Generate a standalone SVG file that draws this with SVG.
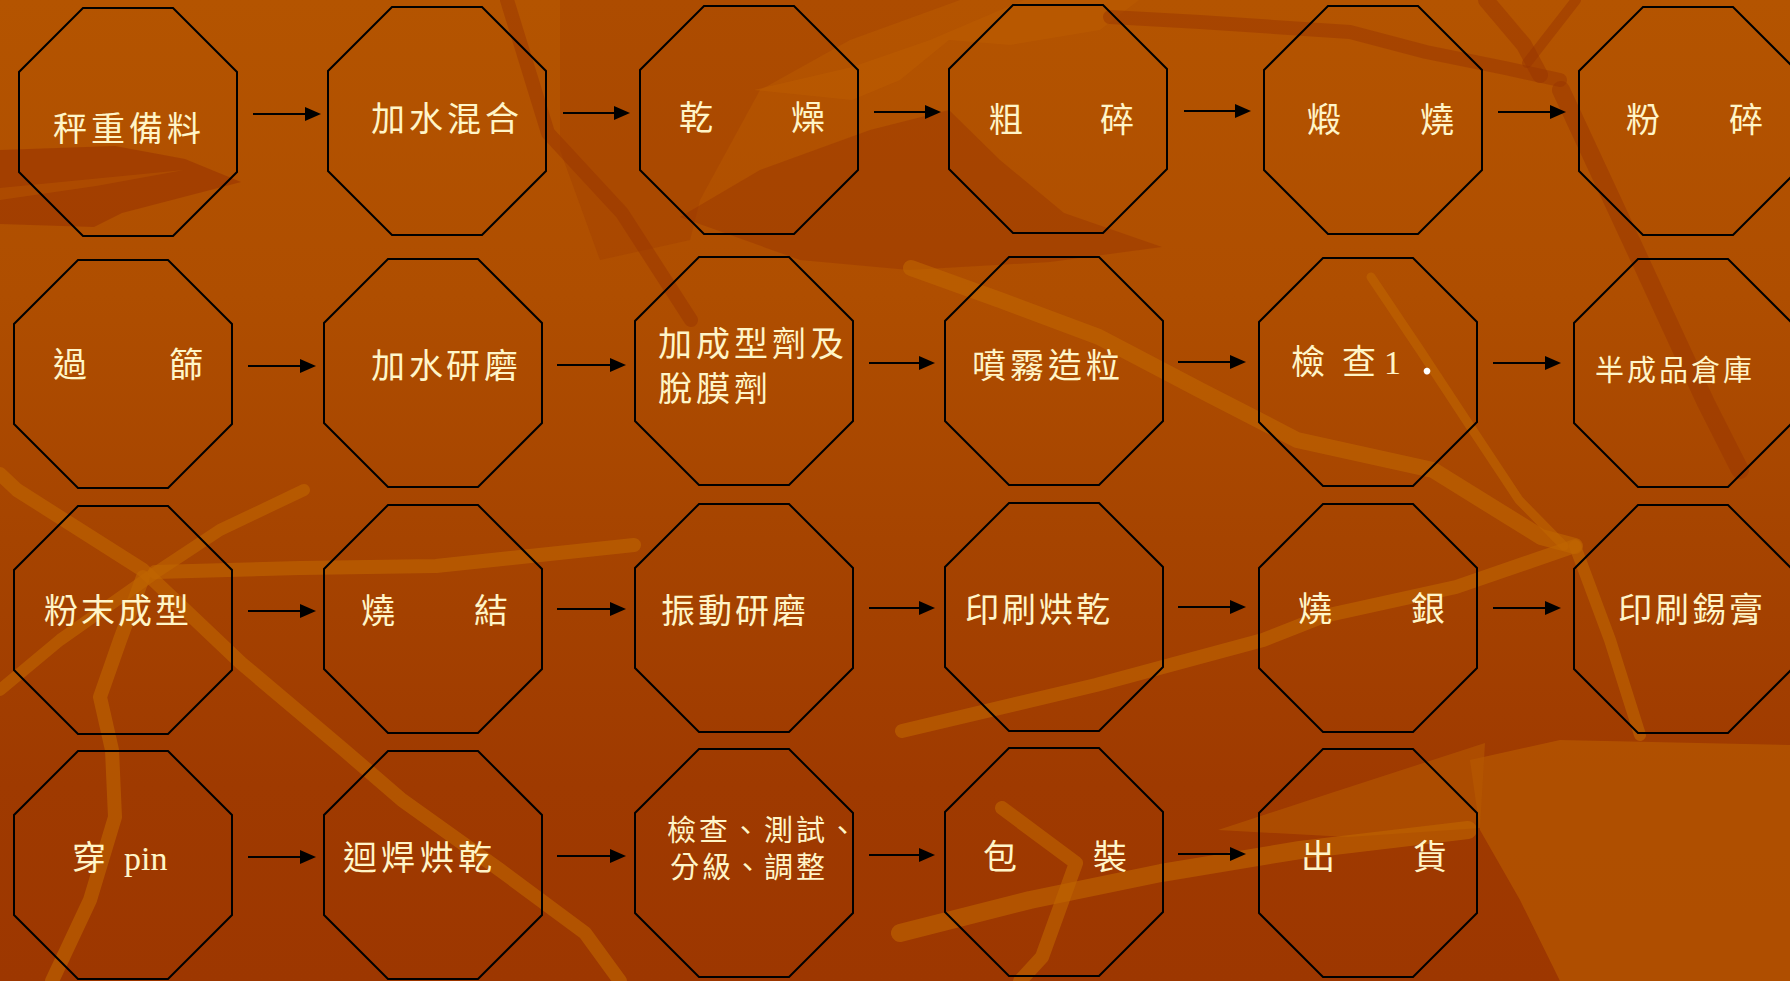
<svg xmlns="http://www.w3.org/2000/svg" width="1790" height="981" viewBox="0 0 1790 981">
<defs>
<style>
.oct{fill:none;stroke:#000;stroke-width:2;stroke-linejoin:miter}
.arr{fill:none;stroke:#000;stroke-width:2;marker-end:url(#ah)}
.lbl{font-family:"Liberation Serif","Noto Sans CJK TC",serif;font-size:34px;fill:#FFF5C8}
.sm{font-size:29px}
.lt{fill:none;stroke:#C06600;stroke-linejoin:round;stroke-linecap:round;opacity:.6}
.dk{fill:none;stroke:#973200;stroke-linejoin:round;stroke-linecap:round;opacity:.45}
</style>
<linearGradient id="bg" x1="0" y1="0" x2="0" y2="1">
<stop offset="0" stop-color="#B45400"/>
<stop offset="0.3" stop-color="#AF4E00"/>
<stop offset="0.55" stop-color="#A64400"/>
<stop offset="0.8" stop-color="#9F3A00"/>
<stop offset="1" stop-color="#9D3700"/>
</linearGradient>
<marker id="ah" markerUnits="userSpaceOnUse" markerWidth="16" markerHeight="14" refX="2" refY="7" orient="auto">
<path d="M0,0 L16,7 L0,14 z" fill="#000"/>
</marker>
</defs>

<g id="background">
<rect x="0" y="0" width="1790" height="981" fill="url(#bg)"/>
<polygon points="0,150 115,146 185,159 241,182 122,213 94,227 0,224" fill="#973200" opacity=".55"/>
<polygon points="0,188 184,170 96,186 0,200" fill="#B05000" opacity=".7"/>
<polygon points="560,0 960,0 850,40 760,90 700,200 690,240 600,260 560,150" fill="#973200" opacity=".25"/>
<polygon points="680,217 760,170 870,130 949,110 1000,160 1064,213 1162,247 1050,262 909,270 800,260" fill="#973200" opacity=".4"/>
<polygon points="754,90 852,67 930,40 1024,0 1139,0 1100,30 1010,45 949,40 900,80 852,100" fill="#BA5C00" opacity=".6"/>
<polygon points="1470,760 1560,740 1790,745 1790,981 1560,981 1520,900 1480,830" fill="#B65800" opacity=".7"/>
<polygon points="1218,830 1331,793 1485,743 1480,828 1348,837" fill="#B65800" opacity=".6"/>
<polyline class="dk" stroke-width="14" points="1110,17 1200,22 1350,32 1426,52 1505,68 1560,80"/>
<polyline class="dk" stroke-width="16" points="1486,0 1524,45 1540,75"/>
<polyline class="dk" stroke-width="10" points="1527,63 1576,0"/>
<polyline class="dk" stroke-width="18" points="1561,90 1640,260 1706,403 1740,470"/>
<polyline class="dk" stroke-width="14" points="507,0 548,133 622,213 691,320"/>
<polyline class="lt" stroke-width="16" points="911,268 1000,300 1099,337 1200,390 1297,440 1433,470 1541,537 1575,546"/>
<polyline class="lt" stroke-width="9" stroke="#C87200" points="1371,277 1420,350 1468,423 1519,500 1564,546"/>
<polyline class="lt" stroke-width="14" points="1575,546 1456,587 1324,616 1263,640 1096,685 902,731"/>
<polyline class="lt" stroke-width="12" points="1575,546 1610,640 1640,735"/>
<polyline class="lt" stroke-width="14" points="155,572 300,568 436,566 634,545"/>
<polyline class="lt" stroke-width="14" points="0,474 17,490 143,570 241,663 344,750 402,800 500,870 585,933 620,981"/>
<polyline class="lt" stroke-width="12" points="304,490 220,530 155,573 60,640 0,690"/>
<polyline class="lt" stroke-width="14" points="143,577 120,640 100,697 112,750 115,817 90,900 52,981"/>
<polyline class="lt" stroke-width="18" points="900,933 1030,900 1161,873 1300,850 1468,830"/>
<polyline class="lt" stroke-width="14" points="1002,808 1076,863 1042,957 1020,981"/>
</g>

<g id="connectors">
<line class="arr" x1="253" y1="114" x2="307" y2="114"/>
<line class="arr" x1="563" y1="113" x2="616" y2="113"/>
<line class="arr" x1="874" y1="112" x2="927" y2="112"/>
<line class="arr" x1="1184" y1="111" x2="1237" y2="111"/>
<line class="arr" x1="1498" y1="112" x2="1552" y2="112"/>
<line class="arr" x1="248" y1="366" x2="302" y2="366"/>
<line class="arr" x1="557" y1="365" x2="612" y2="365"/>
<line class="arr" x1="869" y1="363" x2="921" y2="363"/>
<line class="arr" x1="1178" y1="362" x2="1232" y2="362"/>
<line class="arr" x1="1493" y1="363" x2="1547" y2="363"/>
<line class="arr" x1="248" y1="611" x2="302" y2="611"/>
<line class="arr" x1="557" y1="609" x2="612" y2="609"/>
<line class="arr" x1="869" y1="608" x2="921" y2="608"/>
<line class="arr" x1="1178" y1="607" x2="1232" y2="607"/>
<line class="arr" x1="1493" y1="608" x2="1547" y2="608"/>
<line class="arr" x1="248" y1="857" x2="302" y2="857"/>
<line class="arr" x1="557" y1="856" x2="612" y2="856"/>
<line class="arr" x1="869" y1="855" x2="921" y2="855"/>
<line class="arr" x1="1178" y1="854" x2="1232" y2="854"/>
</g>

<g id="n1"><polygon class="oct" points="83,8 173,8 237,72 237,172 173,236 83,236 19,172 19,72"/><text class="lbl" x="53 91 129 167" y="141">秤重備料</text></g>
<g id="n2"><polygon class="oct" points="392,7 482,7 546,71 546,171 482,235 392,235 328,171 328,71"/><text class="lbl" x="371 409 447 485" y="131">加水混合</text></g>
<g id="n3"><polygon class="oct" points="704,6 794,6 858,70 858,170 794,234 704,234 640,170 640,70"/><text class="lbl" x="679 716 754 791" y="130">乾　　燥</text></g>
<g id="n4"><polygon class="oct" points="1013,5 1103,5 1167,69 1167,169 1103,233 1013,233 949,169 949,69"/><text class="lbl" x="989 1026 1063 1100" y="132">粗　　碎</text></g>
<g id="n5"><polygon class="oct" points="1328,6 1418,6 1482,70 1482,170 1418,234 1328,234 1264,170 1264,70"/><text class="lbl" x="1307 1345 1383 1420" y="132">煅　　燒</text></g>
<g id="n6"><polygon class="oct" points="1643,7 1733,7 1797,71 1797,171 1733,235 1643,235 1579,171 1579,71"/><text class="lbl" x="1626 1660 1695 1729" y="132">粉　　碎</text></g>

<g id="n7"><polygon class="oct" points="78,260 168,260 232,324 232,424 168,488 78,488 14,424 14,324"/><text class="lbl" x="53 92 130 169" y="377">過　　篩</text></g>
<g id="n8"><polygon class="oct" points="388,259 478,259 542,323 542,423 478,487 388,487 324,423 324,323"/><text class="lbl" x="371 409 446 484" y="378">加水研磨</text></g>
<g id="n9"><polygon class="oct" points="699,257 789,257 853,321 853,421 789,485 699,485 635,421 635,321"/><text class="lbl" x="658 696 734 772 810" y="356">加成型劑及</text><text class="lbl" x="658 696 734" y="401">脫膜劑</text></g>
<g id="n10"><polygon class="oct" points="1009,257 1099,257 1163,321 1163,421 1099,485 1009,485 945,421 945,321"/><text class="lbl" x="972 1010 1048 1086" y="378">噴霧造粒</text></g>
<g id="n11"><polygon class="oct" points="1323,258 1413,258 1477,322 1477,422 1413,486 1323,486 1259,422 1259,322"/><text class="lbl" y="374"><tspan x="1291">檢</tspan> <tspan x="1342">查</tspan><tspan x="1384">1</tspan> <tspan x="1420" font-size="56" fill="#FFFFFF">.</tspan></text></g>
<g id="n12"><polygon class="oct" points="1638,259 1728,259 1792,323 1792,423 1728,487 1638,487 1574,423 1574,323"/><text class="lbl sm" x="1595 1627 1659 1691 1723" y="381">半成品倉庫</text></g>

<g id="n13"><polygon class="oct" points="78,506 168,506 232,570 232,670 168,734 78,734 14,670 14,570"/><text class="lbl" x="44 81 118 155" y="623">粉末成型</text></g>
<g id="n14"><polygon class="oct" points="388,505 478,505 542,569 542,669 478,733 388,733 324,669 324,569"/><text class="lbl" x="361 399 436 474" y="623">燒　　結</text></g>
<g id="n15"><polygon class="oct" points="699,504 789,504 853,568 853,668 789,732 699,732 635,668 635,568"/><text class="lbl" x="661 698 735 772" y="623">振動研磨</text></g>
<g id="n16"><polygon class="oct" points="1009,503 1099,503 1163,567 1163,667 1099,731 1009,731 945,667 945,567"/><text class="lbl" x="965 1002 1039 1076" y="622">印刷烘乾</text></g>
<g id="n17"><polygon class="oct" points="1323,504 1413,504 1477,568 1477,668 1413,732 1323,732 1259,668 1259,568"/><text class="lbl" x="1298 1336 1373 1411" y="621">燒　　銀</text></g>
<g id="n18"><polygon class="oct" points="1638,505 1728,505 1792,569 1792,669 1728,733 1638,733 1574,669 1574,569"/><text class="lbl" x="1618 1655 1692 1729" y="622">印刷錫膏</text></g>

<g id="n19"><polygon class="oct" points="78,751 168,751 232,815 232,915 168,979 78,979 14,915 14,815"/><text class="lbl" x="72 106 124" y="870" font-size="35">穿 pin</text></g>
<g id="n20"><polygon class="oct" points="388,751 478,751 542,815 542,915 478,979 388,979 324,915 324,815"/><text class="lbl" x="343 381 420 458" y="870">迴焊烘乾</text></g>
<g id="n21"><polygon class="oct" points="699,749 789,749 853,813 853,913 789,977 699,977 635,913 635,813"/><text class="lbl sm" x="667 699 731 764 796 828" y="841">檢查、測試、</text><text class="lbl sm" x="670 702 733 764 796" y="878">分級、調整</text></g>
<g id="n22"><polygon class="oct" points="1009,748 1099,748 1163,812 1163,912 1099,976 1009,976 945,912 945,812"/><text class="lbl" x="983 1020 1056 1093" y="869">包　　裝</text></g>
<g id="n23"><polygon class="oct" points="1323,749 1413,749 1477,813 1477,913 1413,977 1323,977 1259,913 1259,813"/><text class="lbl" x="1301 1338 1376 1413" y="869">出　　貨</text></g>
</svg>
